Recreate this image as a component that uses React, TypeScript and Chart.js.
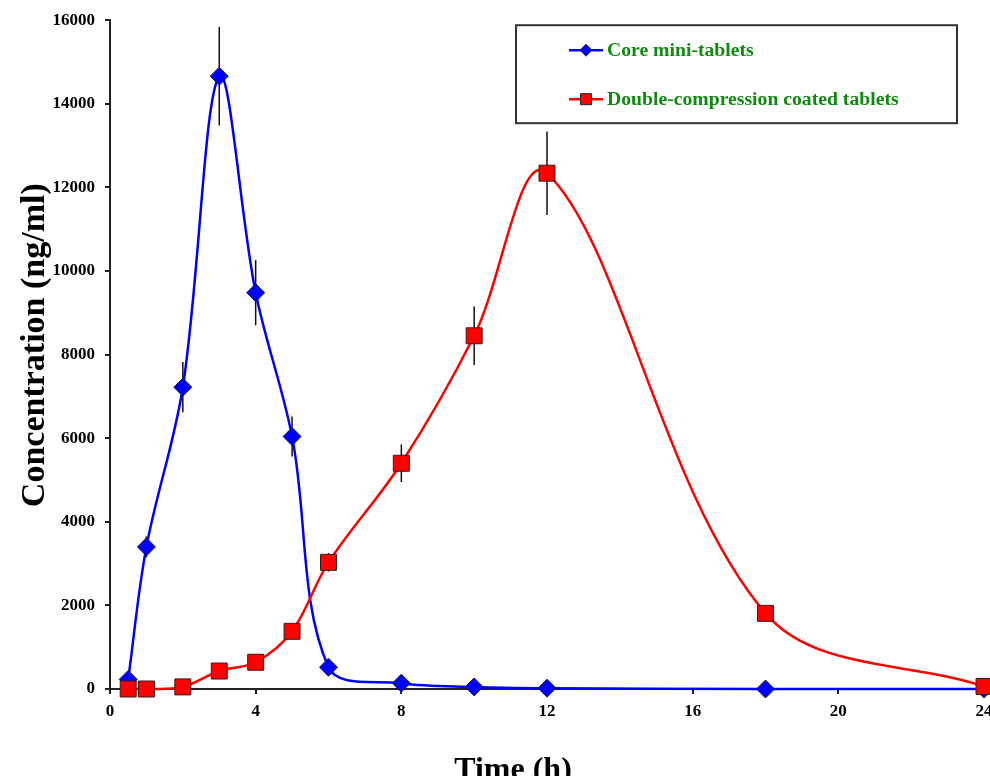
import React, { useEffect, useRef } from "react";
import { Chart, registerables } from "chart.js";

Chart.register(...registerables);

const timeH = [0.5, 1, 2, 3, 4, 5, 6, 8, 10, 12, 18, 24];
const coreMini = [230, 3400, 7220, 14660, 9480, 6040, 520, 140, 50, 20, 0, 0];
const coreMiniSD = [0, 250, 600, 1180, 780, 480, 0, 0, 0, 0, 0, 0];
const coated = [0, 0, 50, 430, 640, 1380, 3030, 5400, 8450, 12340, 1810, 60];
const coatedSD = [0, 0, 0, 0, 0, 0, 220, 450, 700, 1000, 0, 0];
const xTicks = [0, 4, 8, 12, 16, 20, 24];
const yMax = 16000;

const seriesNames = ["Core mini-tablets", "Double-compression coated tablets"];
const xTitle = "Time (h)";
const yTitle = "Concentration (ng/ml)";

const SERIF = '"Liberation Serif", "Times New Roman", serif';

const errorBarPlugin = {
  id: "errorBars",
  beforeDatasetsDraw(chart: any) {
    const ctx = chart.ctx;
    const xs = chart.scales.x;
    const ys = chart.scales.y;
    const sets = [
      { v: coreMini, e: coreMiniSD },
      { v: coated, e: coatedSD },
    ];
    ctx.save();
    ctx.strokeStyle = "#111";
    ctx.lineWidth = 1.5;
    sets.forEach((s) => {
      timeH.forEach((t, i) => {
        const e = s.e[i];
        if (!e) return;
        const px = xs.getPixelForValue(t);
        ctx.beginPath();
        ctx.moveTo(px, ys.getPixelForValue(s.v[i] - e));
        ctx.lineTo(px, ys.getPixelForValue(s.v[i] + e));
        ctx.stroke();
      });
    });
    ctx.restore();
  },
};

const decorPlugin = {
  id: "decor",
  afterDraw(chart: any) {
    const ctx = chart.ctx;
    const area = chart.chartArea;
    ctx.save();
    ctx.fillStyle = "#000";
    ctx.textAlign = "center";
    ctx.textBaseline = "alphabetic";
    ctx.font = `bold 32px ${SERIF}`;
    ctx.fillText(xTitle, area.left + 403, area.bottom + 90);
    ctx.font = `bold 34px ${SERIF}`;
    ctx.translate(area.left - 66, area.top + 325);
    ctx.rotate(-Math.PI / 2);
    ctx.fillText(yTitle, 0, 0);
    ctx.restore();

    // legend box
    ctx.save();
    const bx = area.left + 406;
    const by = area.top + 5;
    const bw = 441;
    const bh = 98;
    ctx.fillStyle = "#fff";
    ctx.fillRect(bx, by, bw, bh);
    ctx.strokeStyle = "#333";
    ctx.lineWidth = 2;
    ctx.strokeRect(bx, by, bw, bh);
    const rows = [by + 25, by + 74];
    chart.data.datasets.forEach((ds: any, i: number) => {
      const y = rows[i];
      const lx0 = bx + 53;
      const lx1 = bx + 87;
      ctx.strokeStyle = ds.borderColor;
      ctx.lineWidth = 2.5;
      ctx.beginPath();
      ctx.moveTo(lx0, y);
      ctx.lineTo(lx1, y);
      ctx.stroke();
      const cx = (lx0 + lx1) / 2;
      ctx.fillStyle = ds.pointBackgroundColor;
      ctx.strokeStyle = "#222";
      ctx.lineWidth = 1;
      ctx.beginPath();
      if (ds.pointStyle === "rectRot") {
        const r = 6;
        ctx.moveTo(cx - r, y);
        ctx.lineTo(cx, y - r);
        ctx.lineTo(cx + r, y);
        ctx.lineTo(cx, y + r);
        ctx.closePath();
      } else {
        ctx.rect(cx - 5.5, y - 5.5, 11, 11);
      }
      ctx.fill();
      ctx.stroke();
      ctx.fillStyle = "#118a11";
      ctx.font = `bold 19.7px ${SERIF}`;
      ctx.textAlign = "left";
      ctx.textBaseline = "middle";
      ctx.fillText(ds.label, lx1 + 4, y + 1);
    });
    ctx.restore();
  },
};

export default function App() {
  const ref = useRef<HTMLCanvasElement | null>(null);
  useEffect(() => {
    if (!ref.current) return;
    const chart = new Chart(ref.current, {
      type: "line",
      data: {
        datasets: [
          {
            label: seriesNames[0],
            data: timeH.map((t, i) => ({ x: t, y: coreMini[i] })),
            borderColor: "#0000ff",
            backgroundColor: "#0000ff",
            pointBackgroundColor: "#0000ff",
            pointBorderColor: "#1a1a3a",
            pointBorderWidth: 1,
            pointStyle: "rectRot",
            pointRadius: 9,
            borderWidth: 2.5,
            tension: 0.35,
            order: 1,
          } as any,
          {
            label: seriesNames[1],
            data: timeH.map((t, i) => ({ x: t, y: coated[i] })),
            borderColor: "#ff0000",
            backgroundColor: "#ff0000",
            pointBackgroundColor: "#ff0000",
            pointBorderColor: "#3a1a1a",
            pointBorderWidth: 1,
            pointStyle: "rect",
            pointRadius: 11.3,
            borderWidth: 2.5,
            tension: 0.35,
            order: 0,
          } as any,
        ],
      },
      options: {
        animation: false,
        responsive: false,
        maintainAspectRatio: false,
        layout: { padding: { left: 0, right: 26, top: 18, bottom: 0 } },
        plugins: {
          legend: { display: false },
          tooltip: { enabled: false },
        },
        elements: { line: { capBezierPoints: false } as any },
        clip: false as any,
        scales: {
          x: {
            type: "linear",
            min: 0,
            max: 24,
            afterFit: (s: any) => {
              s.height = 87;
            },
            afterBuildTicks: (s: any) => {
              s.ticks = xTicks.map((v) => ({ value: v }));
            },
            border: { display: true, color: "#222", width: 2 },
            grid: {
              display: true,
              drawOnChartArea: false,
              drawTicks: true,
              tickLength: 5,
              color: "#222",
              lineWidth: 2,
            },
            ticks: {
              color: "#000",
              padding: 7,
              maxRotation: 0,
              callback: (v: any) => String(v),
              font: { family: SERIF, size: 17, weight: "bold" },
            },
          },
          y: {
            type: "linear",
            min: 0,
            max: yMax,
            afterFit: (s: any) => {
              s.width = 110;
            },
            border: { display: true, color: "#222", width: 2 },
            grid: {
              display: true,
              drawOnChartArea: false,
              drawTicks: true,
              tickLength: 5,
              color: "#222",
              lineWidth: 2,
            },
            ticks: {
              stepSize: 2000,
              color: "#000",
              padding: 10,
              callback: (v: any) => String(v),
              font: { family: SERIF, size: 17, weight: "bold" },
            },
          },
        },
      },
      plugins: [errorBarPlugin, decorPlugin],
    });
    return () => chart.destroy();
  }, []);
  return (
    <div
      style={{
        position: "fixed",
        left: 0,
        top: 0,
        width: 990,
        height: 776,
        overflow: "hidden",
        background: "#fff",
      }}
    >
      <canvas ref={ref} width={1010} height={776} style={{ width: 1010, height: 776, display: "block" }} />
    </div>
  );
}
